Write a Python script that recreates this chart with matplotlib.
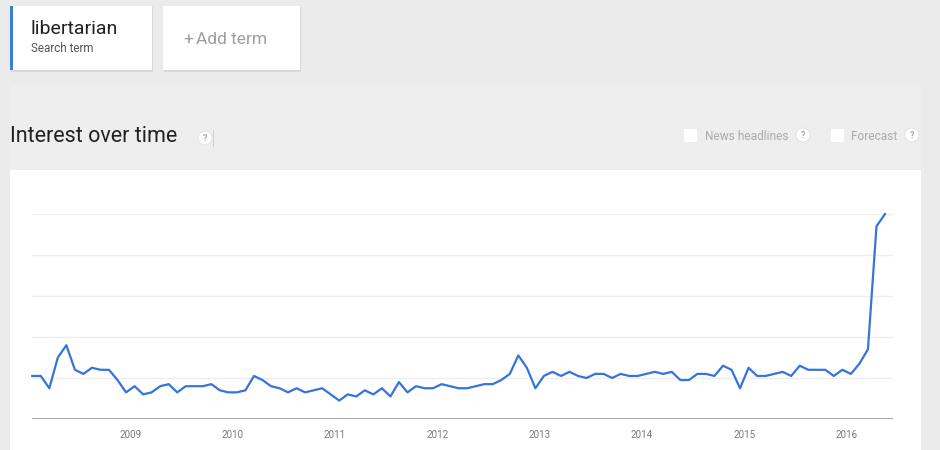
import numpy as np
import matplotlib
matplotlib.use("Agg")
import matplotlib.pyplot as plt
from matplotlib.patches import Rectangle, Circle

plt.rcParams['font.family'] = ['Roboto', 'DejaVu Sans']

# monthly interest, Jan 2008 .. May 2016
interest = [21, 21, 15, 30, 36, 24, 22, 25, 24, 24, 19, 13,
            16, 12, 13, 16, 17, 13, 16, 16, 16, 17, 14, 13,
            13, 14, 21, 19, 16, 15, 13, 15, 13, 14, 15, 12,
            9, 12, 11, 14, 12, 15, 11, 18, 13, 16, 15, 15,
            17, 16, 15, 15, 16, 17, 17, 19, 22, 31, 25, 15,
            21, 23, 21, 23, 21, 20, 22, 22, 20, 22, 21, 21,
            22, 23, 22, 23, 19, 19, 22, 22, 21, 26, 24, 15,
            25, 21, 21, 22, 23, 21, 26, 24, 24, 24, 21, 24,
            22, 27, 34, 94, 100]
years = ['2009', '2010', '2011', '2012', '2013', '2014', '2015', '2016']
gridvals = [20, 40, 60, 80, 100]

W, H = 940, 450
fig = plt.figure(figsize=(W / 100, H / 100), dpi=100)
fig.patch.set_facecolor('#ebebeb')

# page layer in pixel coords
bg = fig.add_axes([0, 0, 1, 1])
bg.set_xlim(0, W)
bg.set_ylim(H, 0)
bg.axis('off')

# search term cards
bg.add_patch(Rectangle((11, 7), 142, 65, fc='#d8d8d8', ec='none'))
bg.add_patch(Rectangle((10, 6), 142, 64, fc='white', ec='none'))
bg.add_patch(Rectangle((10, 6), 3, 64, fc='#3b7ddd', ec='none'))
bg.text(31, 29, 'libertarian', fontsize=14, color='#212121', va='center')
bg.text(31, 48, 'Search term', fontsize=8.4, color='#555555', va='center')
bg.add_patch(Rectangle((164, 7), 137, 65, fc='#d8d8d8', ec='none'))
bg.add_patch(Rectangle((163, 6), 137, 64, fc='white', ec='none'))
bg.text(183, 40, '+', fontsize=12.5, color='#9e9e9e', va='center')
bg.text(196, 40, 'Add term', fontsize=12.5, color='#9e9e9e', va='center')

# section panel
bg.add_patch(Rectangle((10, 85), 911, 370, fc='#eeeeee', ec='none'))
bg.text(10, 136.5, 'Interest over time', fontsize=15.5, color='#212121', va='center')

def help_icon(x, y):
    bg.add_patch(Circle((x, y), 7, fc='white', ec='#e0e0e0', lw=0.6))
    bg.text(x, y + 0.5, '?', fontsize=6.5, color='#aaaaaa', ha='center', va='center',
            fontweight='bold')

help_icon(205, 138)
bg.plot([213, 213], [130, 146], color='#cccccc', lw=0.6)
bg.add_patch(Rectangle((684, 129), 13, 13, fc='white', ec='none'))
bg.text(705, 136, 'News headlines', fontsize=8.6, color='#aaaaaa', va='center')
help_icon(803, 135)
bg.add_patch(Rectangle((831, 129), 13, 13, fc='white', ec='none'))
bg.text(851, 136, 'Forecast', fontsize=8.6, color='#aaaaaa', va='center')
help_icon(912, 135)

# chart card
bg.add_patch(Rectangle((10, 170), 911, 290, fc='white', ec='none'))

# chart axes: baseline at y=419px, value 100 at y=214px
x0, x1 = 32, 893
y0, y1 = 419, 214
ax = fig.add_axes([x0 / W, 1 - y0 / H, (x1 - x0) / W, (y0 - y1) / H])
ax.patch.set_alpha(0)
step = 8.53
months = np.arange(len(interest))
ax.set_xlim(-0.03, (x1 - x0) / step)
ax.set_ylim(0, 100)
for g in gridvals:
    ax.axhline(g, color='#eeeeee', lw=1, zorder=1)
ax.axhline(0, color='#9e9e9e', lw=1.3, zorder=2)
ax.plot(months, interest, color='#3574dd', lw=1.6, zorder=3, clip_on=False)

ax.set_xticks([11.5 + 12 * i for i in range(len(years))])
ax.set_xticklabels(years)
ax.tick_params(axis='x', length=0, labelsize=7.1, labelcolor='#7a7a7a', pad=8)
ax.set_yticks([])
for s in ax.spines.values():
    s.set_visible(False)

fig.savefig('out.png', dpi=100, facecolor=fig.get_facecolor())
